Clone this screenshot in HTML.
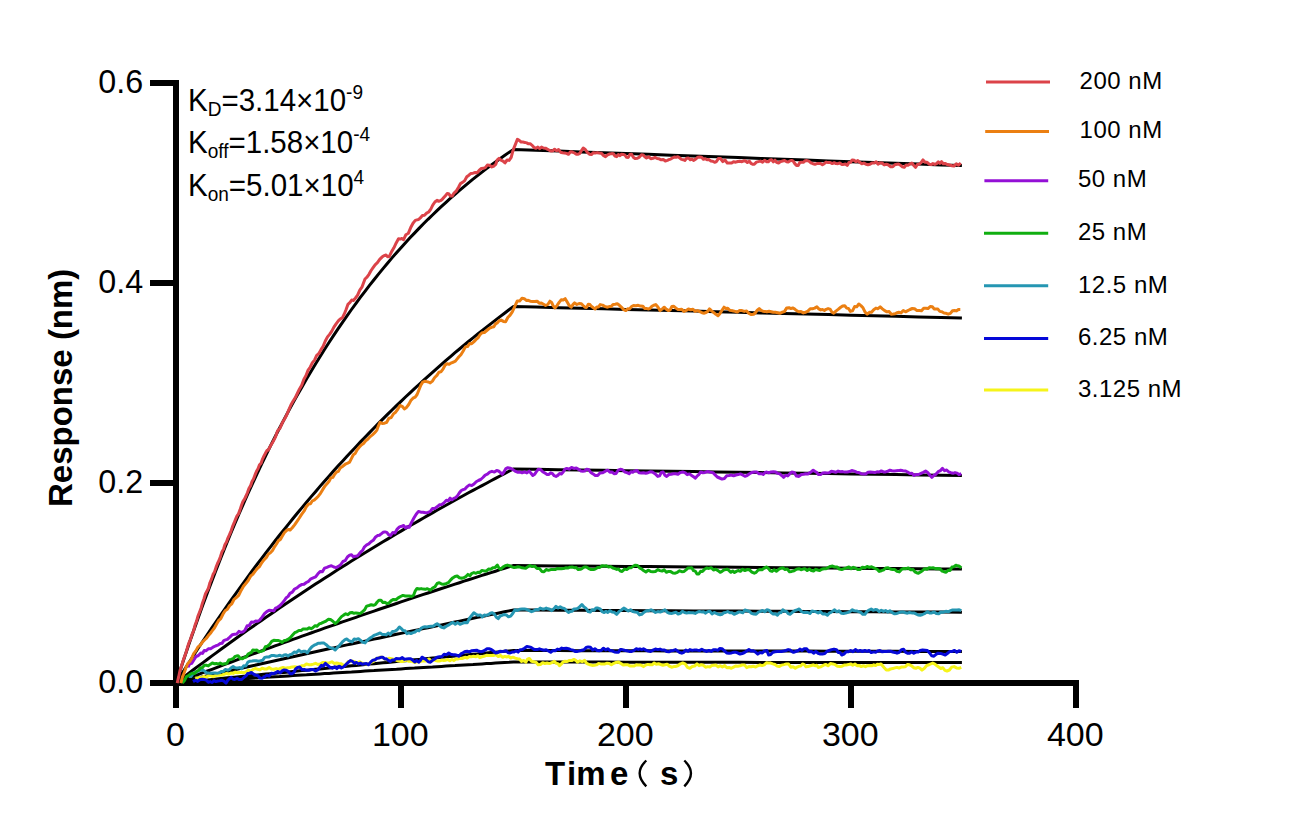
<!DOCTYPE html>
<html><head><meta charset="utf-8"><style>
html,body{margin:0;padding:0;background:#fff;}
svg{display:block;}
text{font-family:"Liberation Sans",sans-serif;fill:#000;}
.tk{font-size:34px;}
.lg{font-size:24px;letter-spacing:0.5px;}
.kd{font-size:31px;}
.sup{font-size:20px;}
.sub{font-size:20px;}
.ttl{font-size:33px;font-weight:bold;}
</style></head><body>
<svg width="1289" height="836" viewBox="0 0 1289 836">
<rect width="1289" height="836" fill="#fff"/>
<g fill="#000">
<rect x="173" y="80" width="6" height="628"/>
<rect x="150" y="680" width="929" height="6"/>
<rect x="150" y="80" width="29" height="6"/>
<rect x="150" y="280" width="29" height="6"/>
<rect x="150" y="480" width="29" height="6"/>
<rect x="398" y="680" width="6" height="28"/>
<rect x="623" y="680" width="6" height="28"/>
<rect x="848" y="680" width="6" height="28"/>
<rect x="1073" y="680" width="6" height="28"/>
</g>
<path d="M176.0 683.0 L180.5 669.3 L185.0 655.8 L189.5 642.6 L194.0 629.7 L198.5 617.0 L203.0 604.6 L207.5 592.5 L212.0 580.6 L216.5 568.9 L221.0 557.5 L225.5 546.3 L230.0 535.3 L234.5 524.5 L239.0 514.0 L243.5 503.6 L248.0 493.5 L252.5 483.6 L257.0 473.9 L261.5 464.4 L266.0 455.0 L270.5 445.9 L275.0 436.9 L279.5 428.2 L284.0 419.6 L288.5 411.1 L293.0 402.9 L297.5 394.8 L302.0 386.9 L306.5 379.1 L311.0 371.5 L315.5 364.0 L320.0 356.7 L324.5 349.5 L329.0 342.5 L333.5 335.7 L338.0 328.9 L342.5 322.3 L347.0 315.9 L351.5 309.5 L356.0 303.3 L360.5 297.2 L365.0 291.3 L369.5 285.4 L374.0 279.7 L378.5 274.1 L383.0 268.6 L387.5 263.2 L392.0 257.9 L396.5 252.7 L401.0 247.7 L405.5 242.7 L410.0 237.8 L414.5 233.1 L419.0 228.4 L423.5 223.8 L428.0 219.3 L432.5 215.0 L437.0 210.6 L441.5 206.4 L446.0 202.3 L450.5 198.2 L455.0 194.3 L459.5 190.4 L464.0 186.6 L468.5 182.8 L473.0 179.2 L477.5 175.6 L482.0 172.1 L486.5 168.6 L491.0 165.3 L495.5 162.0 L500.0 158.7 L504.5 155.6 L509.0 152.4 L513.5 149.4 L536.0 150.2 L558.5 151.1 L581.0 151.9 L603.5 152.7 L626.0 153.5 L648.5 154.3 L671.0 155.2 L693.5 156.0 L716.0 156.8 L738.5 157.6 L761.0 158.4 L783.5 159.2 L806.0 160.0 L828.5 160.9 L851.0 161.7 L873.5 162.5 L896.0 163.3 L918.5 164.1 L941.0 164.9 L961.9 165.6" fill="none" stroke="#000" stroke-width="3"/>
<path d="M176.0 683.0 L180.5 675.8 L185.0 668.7 L189.5 661.7 L194.0 654.7 L198.5 647.8 L203.0 641.0 L207.5 634.3 L212.0 627.6 L216.5 621.0 L221.0 614.5 L225.5 608.0 L230.0 601.6 L234.5 595.3 L239.0 589.0 L243.5 582.8 L248.0 576.6 L252.5 570.5 L257.0 564.5 L261.5 558.6 L266.0 552.7 L270.5 546.8 L275.0 541.0 L279.5 535.3 L284.0 529.7 L288.5 524.1 L293.0 518.5 L297.5 513.0 L302.0 507.6 L306.5 502.2 L311.0 496.9 L315.5 491.7 L320.0 486.4 L324.5 481.3 L329.0 476.2 L333.5 471.1 L338.0 466.1 L342.5 461.2 L347.0 456.3 L351.5 451.4 L356.0 446.7 L360.5 441.9 L365.0 437.2 L369.5 432.6 L374.0 428.0 L378.5 423.4 L383.0 418.9 L387.5 414.4 L392.0 410.0 L396.5 405.6 L401.0 401.3 L405.5 397.0 L410.0 392.8 L414.5 388.6 L419.0 384.5 L423.5 380.3 L428.0 376.3 L432.5 372.3 L437.0 368.3 L441.5 364.3 L446.0 360.4 L450.5 356.6 L455.0 352.7 L459.5 349.0 L464.0 345.2 L468.5 341.5 L473.0 337.9 L477.5 334.2 L482.0 330.6 L486.5 327.1 L491.0 323.6 L495.5 320.1 L500.0 316.6 L504.5 313.2 L509.0 309.8 L513.5 306.5 L536.0 307.1 L558.5 307.7 L581.0 308.2 L603.5 308.8 L626.0 309.4 L648.5 310.0 L671.0 310.6 L693.5 311.1 L716.0 311.7 L738.5 312.3 L761.0 312.9 L783.5 313.4 L806.0 314.0 L828.5 314.6 L851.0 315.2 L873.5 315.7 L896.0 316.3 L918.5 316.9 L941.0 317.4 L961.9 318.0" fill="none" stroke="#000" stroke-width="3"/>
<path d="M176.0 683.0 L180.5 679.5 L185.0 676.1 L189.5 672.7 L194.0 669.3 L198.5 665.9 L203.0 662.6 L207.5 659.2 L212.0 655.9 L216.5 652.6 L221.0 649.3 L225.5 646.0 L230.0 642.8 L234.5 639.5 L239.0 636.3 L243.5 633.1 L248.0 629.9 L252.5 626.8 L257.0 623.6 L261.5 620.5 L266.0 617.3 L270.5 614.2 L275.0 611.2 L279.5 608.1 L284.0 605.0 L288.5 602.0 L293.0 599.0 L297.5 596.0 L302.0 593.0 L306.5 590.0 L311.0 587.1 L315.5 584.1 L320.0 581.2 L324.5 578.3 L329.0 575.4 L333.5 572.5 L338.0 569.6 L342.5 566.8 L347.0 563.9 L351.5 561.1 L356.0 558.3 L360.5 555.5 L365.0 552.8 L369.5 550.0 L374.0 547.3 L378.5 544.5 L383.0 541.8 L387.5 539.1 L392.0 536.4 L396.5 533.7 L401.0 531.1 L405.5 528.4 L410.0 525.8 L414.5 523.2 L419.0 520.6 L423.5 518.0 L428.0 515.4 L432.5 512.9 L437.0 510.3 L441.5 507.8 L446.0 505.3 L450.5 502.7 L455.0 500.3 L459.5 497.8 L464.0 495.3 L468.5 492.8 L473.0 490.4 L477.5 488.0 L482.0 485.6 L486.5 483.2 L491.0 480.8 L495.5 478.4 L500.0 476.0 L504.5 473.7 L509.0 471.3 L513.5 469.0 L536.0 469.3 L558.5 469.7 L581.0 470.0 L603.5 470.3 L626.0 470.7 L648.5 471.0 L671.0 471.3 L693.5 471.6 L716.0 472.0 L738.5 472.3 L761.0 472.6 L783.5 472.9 L806.0 473.3 L828.5 473.6 L851.0 473.9 L873.5 474.2 L896.0 474.6 L918.5 474.9 L941.0 475.2 L961.9 475.5" fill="none" stroke="#000" stroke-width="3"/>
<path d="M176.0 683.0 L180.5 681.3 L185.0 679.5 L189.5 677.8 L194.0 676.1 L198.5 674.4 L203.0 672.7 L207.5 671.0 L212.0 669.3 L216.5 667.6 L221.0 665.9 L225.5 664.2 L230.0 662.5 L234.5 660.8 L239.0 659.1 L243.5 657.5 L248.0 655.8 L252.5 654.2 L257.0 652.5 L261.5 650.8 L266.0 649.2 L270.5 647.6 L275.0 645.9 L279.5 644.3 L284.0 642.7 L288.5 641.0 L293.0 639.4 L297.5 637.8 L302.0 636.2 L306.5 634.6 L311.0 633.0 L315.5 631.4 L320.0 629.8 L324.5 628.2 L329.0 626.7 L333.5 625.1 L338.0 623.5 L342.5 621.9 L347.0 620.4 L351.5 618.8 L356.0 617.3 L360.5 615.7 L365.0 614.2 L369.5 612.6 L374.0 611.1 L378.5 609.5 L383.0 608.0 L387.5 606.5 L392.0 605.0 L396.5 603.5 L401.0 601.9 L405.5 600.4 L410.0 598.9 L414.5 597.4 L419.0 595.9 L423.5 594.4 L428.0 593.0 L432.5 591.5 L437.0 590.0 L441.5 588.5 L446.0 587.1 L450.5 585.6 L455.0 584.1 L459.5 582.7 L464.0 581.2 L468.5 579.8 L473.0 578.3 L477.5 576.9 L482.0 575.4 L486.5 574.0 L491.0 572.6 L495.5 571.2 L500.0 569.7 L504.5 568.3 L509.0 566.9 L513.5 565.5 L536.0 565.7 L558.5 565.9 L581.0 566.0 L603.5 566.2 L626.0 566.4 L648.5 566.6 L671.0 566.8 L693.5 566.9 L716.0 567.1 L738.5 567.3 L761.0 567.5 L783.5 567.7 L806.0 567.8 L828.5 568.0 L851.0 568.2 L873.5 568.4 L896.0 568.6 L918.5 568.7 L941.0 568.9 L961.9 569.1" fill="none" stroke="#000" stroke-width="3"/>
<path d="M176.0 683.0 L180.5 682.0 L185.0 680.9 L189.5 679.9 L194.0 678.9 L198.5 677.9 L203.0 676.8 L207.5 675.8 L212.0 674.8 L216.5 673.8 L221.0 672.8 L225.5 671.8 L230.0 670.7 L234.5 669.7 L239.0 668.7 L243.5 667.7 L248.0 666.7 L252.5 665.7 L257.0 664.7 L261.5 663.7 L266.0 662.7 L270.5 661.7 L275.0 660.7 L279.5 659.7 L284.0 658.7 L288.5 657.7 L293.0 656.7 L297.5 655.7 L302.0 654.7 L306.5 653.8 L311.0 652.8 L315.5 651.8 L320.0 650.8 L324.5 649.8 L329.0 648.8 L333.5 647.9 L338.0 646.9 L342.5 645.9 L347.0 644.9 L351.5 644.0 L356.0 643.0 L360.5 642.0 L365.0 641.1 L369.5 640.1 L374.0 639.1 L378.5 638.2 L383.0 637.2 L387.5 636.3 L392.0 635.3 L396.5 634.3 L401.0 633.4 L405.5 632.4 L410.0 631.5 L414.5 630.5 L419.0 629.6 L423.5 628.6 L428.0 627.7 L432.5 626.7 L437.0 625.8 L441.5 624.9 L446.0 623.9 L450.5 623.0 L455.0 622.0 L459.5 621.1 L464.0 620.2 L468.5 619.2 L473.0 618.3 L477.5 617.4 L482.0 616.5 L486.5 615.5 L491.0 614.6 L495.5 613.7 L500.0 612.8 L504.5 611.8 L509.0 610.9 L513.5 610.0 L536.0 610.1 L558.5 610.2 L581.0 610.3 L603.5 610.5 L626.0 610.6 L648.5 610.7 L671.0 610.8 L693.5 610.9 L716.0 611.0 L738.5 611.1 L761.0 611.2 L783.5 611.3 L806.0 611.5 L828.5 611.6 L851.0 611.7 L873.5 611.8 L896.0 611.9 L918.5 612.0 L941.0 612.1 L961.9 612.2" fill="none" stroke="#000" stroke-width="3"/>
<path d="M176.0 683.0 L180.5 682.6 L185.0 682.1 L189.5 681.7 L194.0 681.2 L198.5 680.8 L203.0 680.3 L207.5 679.9 L212.0 679.4 L216.5 679.0 L221.0 678.5 L225.5 678.1 L230.0 677.6 L234.5 677.2 L239.0 676.8 L243.5 676.3 L248.0 675.9 L252.5 675.4 L257.0 675.0 L261.5 674.5 L266.0 674.1 L270.5 673.7 L275.0 673.2 L279.5 672.8 L284.0 672.4 L288.5 671.9 L293.0 671.5 L297.5 671.0 L302.0 670.6 L306.5 670.2 L311.0 669.7 L315.5 669.3 L320.0 668.9 L324.5 668.4 L329.0 668.0 L333.5 667.5 L338.0 667.1 L342.5 666.7 L347.0 666.2 L351.5 665.8 L356.0 665.4 L360.5 665.0 L365.0 664.5 L369.5 664.1 L374.0 663.7 L378.5 663.2 L383.0 662.8 L387.5 662.4 L392.0 661.9 L396.5 661.5 L401.0 661.1 L405.5 660.7 L410.0 660.2 L414.5 659.8 L419.0 659.4 L423.5 658.9 L428.0 658.5 L432.5 658.1 L437.0 657.7 L441.5 657.2 L446.0 656.8 L450.5 656.4 L455.0 656.0 L459.5 655.5 L464.0 655.1 L468.5 654.7 L473.0 654.3 L477.5 653.9 L482.0 653.4 L486.5 653.0 L491.0 652.6 L495.5 652.2 L500.0 651.8 L504.5 651.3 L509.0 650.9 L513.5 650.5 L536.0 650.6 L558.5 650.6 L581.0 650.7 L603.5 650.7 L626.0 650.8 L648.5 650.8 L671.0 650.9 L693.5 650.9 L716.0 651.0 L738.5 651.0 L761.0 651.0 L783.5 651.1 L806.0 651.1 L828.5 651.2 L851.0 651.2 L873.5 651.3 L896.0 651.3 L918.5 651.4 L941.0 651.4 L961.9 651.5" fill="none" stroke="#000" stroke-width="3"/>
<path d="M176.0 683.0 L180.5 682.7 L185.0 682.4 L189.5 682.1 L194.0 681.9 L198.5 681.6 L203.0 681.3 L207.5 681.0 L212.0 680.7 L216.5 680.4 L221.0 680.1 L225.5 679.9 L230.0 679.6 L234.5 679.3 L239.0 679.0 L243.5 678.7 L248.0 678.4 L252.5 678.2 L257.0 677.9 L261.5 677.6 L266.0 677.3 L270.5 677.0 L275.0 676.7 L279.5 676.5 L284.0 676.2 L288.5 675.9 L293.0 675.6 L297.5 675.3 L302.0 675.0 L306.5 674.8 L311.0 674.5 L315.5 674.2 L320.0 673.9 L324.5 673.6 L329.0 673.4 L333.5 673.1 L338.0 672.8 L342.5 672.5 L347.0 672.2 L351.5 672.0 L356.0 671.7 L360.5 671.4 L365.0 671.1 L369.5 670.8 L374.0 670.6 L378.5 670.3 L383.0 670.0 L387.5 669.7 L392.0 669.4 L396.5 669.2 L401.0 668.9 L405.5 668.6 L410.0 668.3 L414.5 668.1 L419.0 667.8 L423.5 667.5 L428.0 667.2 L432.5 667.0 L437.0 666.7 L441.5 666.4 L446.0 666.1 L450.5 665.8 L455.0 665.6 L459.5 665.3 L464.0 665.0 L468.5 664.7 L473.0 664.5 L477.5 664.2 L482.0 663.9 L486.5 663.6 L491.0 663.4 L495.5 663.1 L500.0 662.8 L504.5 662.5 L509.0 662.3 L513.5 662.0 L536.0 662.0 L558.5 662.1 L581.0 662.1 L603.5 662.1 L626.0 662.2 L648.5 662.2 L671.0 662.2 L693.5 662.3 L716.0 662.3 L738.5 662.3 L761.0 662.4 L783.5 662.4 L806.0 662.4 L828.5 662.5 L851.0 662.5 L873.5 662.5 L896.0 662.5 L918.5 662.6 L941.0 662.6 L961.9 662.6" fill="none" stroke="#000" stroke-width="3"/>
<path d="M195.1 678.1 L197.3 678.3 L199.4 677.4 L201.6 677.7 L203.7 676.3 L205.9 677.3 L208.3 675.8 L210.7 675.8 L213.1 676.7 L215.4 675.7 L217.8 675.1 L220.2 675.2 L222.4 675.0 L224.5 674.2 L226.7 673.4 L228.8 674.2 L231.0 673.0 L233.1 673.4 L235.3 672.1 L237.4 672.8 L239.6 672.5 L241.7 672.3 L243.9 672.7 L246.1 671.8 L248.4 670.1 L250.6 671.4 L252.8 669.6 L255.1 668.5 L257.5 669.2 L259.8 669.9 L262.1 668.2 L264.5 669.0 L266.8 668.9 L269.1 667.6 L271.4 669.1 L273.8 669.2 L276.1 668.6 L278.4 669.3 L280.7 668.2 L283.0 667.5 L285.4 668.2 L287.7 667.7 L290.0 667.5 L292.4 666.9 L294.7 666.8 L297.0 667.3 L299.4 667.3 L301.7 665.7 L304.0 665.8 L306.4 663.9 L308.7 664.7 L311.0 664.8 L313.3 664.1 L315.6 663.3 L317.9 664.5 L320.3 663.9 L322.6 662.4 L324.9 662.5 L327.3 663.2 L329.6 662.6 L331.9 661.8 L334.3 663.4 L336.6 663.1 L338.9 663.5 L341.3 663.8 L343.6 665.4 L345.7 664.8 L347.9 661.8 L350.0 661.4 L352.4 661.1 L354.8 661.8 L357.2 663.4 L359.5 661.7 L361.9 663.1 L364.3 663.7 L366.7 663.9 L368.9 663.8 L371.2 662.5 L373.4 661.5 L375.6 658.9 L377.9 658.1 L380.1 657.2 L382.3 657.3 L384.6 659.1 L386.8 659.8 L389.0 658.2 L391.3 658.7 L393.5 659.3 L395.7 659.8 L398.0 660.9 L400.2 661.4 L402.3 661.6 L404.4 660.8 L406.5 660.1 L408.6 661.2 L410.7 661.1 L412.8 661.6 L414.9 662.6 L417.0 661.4 L419.4 661.7 L421.8 661.0 L424.2 661.0 L426.5 660.9 L428.9 659.0 L431.3 661.0 L433.7 659.7 L435.7 660.6 L437.7 661.0 L439.8 661.0 L441.8 660.1 L443.8 660.5 L445.8 660.2 L447.8 659.5 L449.8 660.8 L451.8 659.4 L453.8 660.5 L456.0 659.0 L458.3 658.9 L460.5 658.4 L462.7 658.4 L465.0 657.3 L467.2 658.0 L469.3 656.5 L471.4 656.7 L473.5 656.3 L475.6 656.8 L477.7 655.7 L479.8 657.7 L481.9 656.8 L484.0 656.3 L486.4 655.3 L488.8 655.4 L491.2 655.6 L493.5 655.5 L495.9 654.7 L498.3 656.5 L500.7 655.5 L502.7 657.3 L504.7 656.4 L506.7 657.0 L508.7 656.4 L510.7 658.0 L512.9 657.2 L515.2 658.1 L517.4 658.8 L519.5 659.0 L521.6 661.4 L523.7 660.5 L525.8 662.2 L527.5 659.1 L529.3 658.5 L531.5 661.2 L533.8 661.7 L536.0 662.3 L538.2 664.8 L540.4 664.5 L542.7 662.7 L544.9 663.5 L547.1 663.0 L549.5 663.6 L551.9 662.7 L554.3 661.2 L556.1 663.2 L557.8 663.6 L559.6 665.7 L561.4 663.9 L563.2 661.8 L565.0 661.2 L567.2 661.5 L569.5 660.4 L571.7 660.6 L573.9 659.4 L575.7 660.3 L577.5 662.1 L579.9 660.8 L582.2 661.7 L584.6 660.3 L586.4 663.1 L588.2 664.2 L590.0 664.8 L592.1 665.4 L594.3 665.3 L596.4 664.9 L598.6 663.4 L600.7 663.9 L602.8 664.1 L605.0 663.9 L607.1 663.2 L609.3 663.4 L611.4 664.8 L613.8 663.3 L616.1 662.4 L618.5 662.1 L620.9 663.5 L623.2 665.1 L625.6 664.8 L627.7 664.7 L629.9 665.9 L632.0 666.1 L634.2 666.0 L636.3 664.8 L638.1 664.9 L639.9 665.0 L641.7 665.4 L643.5 666.6 L645.6 665.1 L647.8 664.4 L649.9 664.8 L652.1 664.8 L654.2 663.0 L656.3 664.2 L658.5 663.7 L660.6 664.5 L662.8 665.2 L664.9 664.8 L667.1 664.2 L669.3 666.1 L671.6 667.2 L673.8 666.6 L676.0 666.4 L678.2 665.5 L680.5 663.8 L682.7 663.0 L685.1 663.9 L687.5 667.3 L689.9 668.3 L692.3 666.4 L694.6 666.1 L697.0 663.9 L699.1 665.7 L701.3 664.7 L703.4 665.3 L705.6 667.2 L707.7 666.6 L709.8 667.0 L711.9 665.4 L714.0 665.2 L716.0 665.1 L718.1 666.9 L720.2 665.7 L722.4 666.9 L724.7 665.6 L726.9 667.8 L729.1 667.4 L731.3 668.3 L733.5 667.1 L735.6 666.0 L737.8 666.2 L740.0 665.7 L742.2 665.0 L744.5 664.9 L746.7 667.6 L748.9 666.6 L751.1 666.8 L753.3 666.2 L755.6 667.1 L757.8 665.7 L760.0 665.0 L762.1 665.6 L764.3 664.9 L766.4 662.8 L768.6 663.0 L770.7 663.1 L772.9 663.9 L775.0 664.5 L777.2 666.1 L779.3 666.6 L781.7 665.1 L784.0 664.6 L786.4 663.9 L788.6 664.0 L790.8 667.2 L793.1 666.8 L795.3 668.3 L797.1 667.1 L798.9 666.3 L800.7 666.1 L802.5 663.9 L804.3 664.6 L806.0 666.8 L807.8 666.6 L809.6 666.0 L811.4 665.5 L813.2 664.8 L815.0 665.7 L816.7 665.3 L818.5 667.4 L820.9 666.7 L823.3 665.4 L825.6 664.4 L828.0 665.8 L830.4 663.6 L832.8 663.9 L835.2 664.7 L837.5 666.3 L839.9 666.6 L842.0 666.2 L844.2 665.1 L846.3 665.0 L848.5 664.6 L850.6 663.9 L852.7 665.2 L854.9 664.0 L857.0 665.7 L859.2 665.4 L861.3 666.6 L863.4 665.7 L865.5 666.7 L867.5 665.7 L869.6 665.6 L871.7 665.8 L873.8 664.8 L875.6 665.6 L877.4 664.2 L879.2 664.4 L881.0 663.9 L882.8 666.0 L884.5 668.1 L886.3 670.1 L888.4 670.1 L890.6 668.9 L892.7 668.6 L894.9 667.9 L897.0 667.4 L899.1 668.1 L901.2 667.1 L903.2 667.1 L905.3 666.8 L907.4 664.6 L909.5 664.8 L911.6 665.8 L913.7 667.7 L915.8 668.3 L917.8 667.4 L919.9 668.2 L922.0 670.1 L924.4 668.2 L926.7 665.5 L929.1 664.8 L930.9 663.8 L932.7 663.1 L934.5 663.9 L936.6 665.5 L938.7 667.0 L940.8 668.5 L942.8 667.7 L944.9 670.4 L947.0 671.0 L949.4 670.0 L951.7 667.1 L954.1 666.6 L956.5 667.9 L958.9 668.3 L961.3 667.4" fill="none" stroke="#f6f41a" stroke-width="3" stroke-linejoin="round"/>
<path d="M193.0 681.6 L195.4 680.2 L197.7 681.4 L200.1 679.5 L202.2 679.2 L204.4 679.5 L206.3 680.2 L208.3 682.2 L210.2 681.6 L212.1 682.5 L214.0 680.7 L215.9 681.6 L217.8 681.0 L219.7 680.7 L221.6 680.2 L223.8 681.2 L226.0 683.1 L227.7 680.4 L229.3 678.8 L231.0 677.3 L232.8 679.0 L234.6 679.5 L237.0 678.3 L239.3 679.6 L241.7 679.5 L243.8 677.5 L246.0 675.9 L247.8 673.5 L249.6 673.1 L251.4 672.4 L253.5 674.1 L255.6 675.2 L257.7 675.5 L259.8 678.0 L262.1 678.3 L264.5 676.9 L266.8 675.2 L269.1 676.0 L271.5 673.2 L273.8 673.8 L275.9 672.6 L278.0 671.4 L280.1 672.8 L282.1 670.9 L284.2 669.9 L286.3 670.3 L288.2 671.3 L290.0 673.7 L291.9 673.8 L293.8 672.5 L295.6 669.0 L297.5 667.5 L299.7 667.1 L302.0 669.7 L304.2 669.4 L306.5 670.3 L308.7 670.3 L311.0 669.5 L313.3 669.6 L315.6 671.0 L317.6 669.9 L319.5 667.7 L321.5 665.3 L323.4 666.0 L325.4 663.3 L327.7 665.3 L330.1 667.4 L332.4 668.2 L334.6 666.8 L336.9 668.6 L339.1 666.2 L341.4 668.0 L343.6 666.8 L345.9 664.6 L348.3 662.2 L350.6 660.5 L352.6 661.5 L354.5 663.3 L356.4 662.4 L358.4 663.9 L360.4 663.1 L362.4 664.3 L364.4 663.7 L366.4 663.5 L368.4 664.7 L370.6 662.2 L372.9 660.2 L375.1 659.7 L377.0 658.3 L378.9 658.0 L380.8 657.3 L382.7 657.2 L384.6 658.9 L386.4 658.8 L388.3 660.4 L390.2 661.4 L392.2 660.0 L394.2 660.0 L396.2 658.6 L398.2 658.7 L400.2 658.8 L402.3 657.5 L404.4 659.4 L406.5 658.9 L408.6 658.8 L410.6 658.7 L412.6 660.1 L414.7 662.0 L416.7 660.5 L418.7 662.2 L420.4 660.5 L422.0 657.2 L424.1 658.3 L426.2 659.7 L428.3 661.8 L430.4 662.2 L432.6 660.3 L434.9 658.9 L437.1 657.2 L439.4 656.8 L441.8 656.8 L444.1 654.3 L446.5 654.7 L448.8 653.0 L450.8 654.2 L452.8 654.7 L454.8 654.7 L456.8 655.2 L458.8 656.3 L460.9 653.9 L463.0 652.8 L465.1 651.4 L467.2 651.3 L469.5 651.9 L471.9 650.7 L474.2 650.4 L476.6 650.2 L478.9 651.3 L480.9 651.7 L482.9 651.3 L485.0 650.2 L487.0 648.7 L489.0 648.8 L491.2 649.5 L493.5 651.1 L495.7 653.0 L497.8 652.5 L499.9 651.3 L502.0 651.6 L504.1 651.3 L506.1 650.8 L508.1 652.8 L510.1 653.0 L512.1 652.1 L514.1 652.1 L516.1 650.8 L518.1 652.1 L520.1 649.7 L522.1 649.6 L524.5 648.3 L526.9 646.5 L529.3 646.9 L531.1 647.5 L532.8 648.6 L534.6 649.6 L537.0 649.6 L539.4 648.8 L541.8 649.6 L544.0 650.3 L546.2 649.7 L548.5 651.0 L550.7 652.3 L552.9 650.6 L555.2 650.7 L557.4 649.1 L559.6 649.6 L561.8 648.1 L564.0 648.6 L566.3 648.2 L568.5 648.7 L570.8 649.6 L573.0 650.1 L575.2 651.4 L577.5 651.4 L579.6 650.9 L581.8 650.2 L583.9 649.7 L586.1 647.5 L588.2 646.9 L590.4 647.3 L592.7 650.0 L594.9 648.7 L597.1 650.5 L599.2 650.7 L601.4 650.2 L603.5 648.2 L605.7 649.9 L607.8 648.7 L610.0 650.6 L612.2 650.8 L614.5 652.0 L616.7 652.3 L618.5 652.2 L620.3 649.6 L622.1 649.6 L624.5 650.3 L626.8 650.8 L629.2 651.4 L631.6 651.4 L633.9 650.4 L636.3 648.7 L638.1 649.5 L639.9 648.9 L641.7 649.7 L643.5 648.7 L645.9 650.1 L648.2 651.0 L650.6 651.4 L653.0 650.1 L655.4 649.0 L657.8 649.6 L660.0 649.1 L662.2 650.1 L664.5 649.9 L666.7 651.4 L668.9 651.8 L671.2 650.7 L673.4 650.4 L675.6 649.6 L677.7 651.1 L679.7 652.5 L681.8 653.2 L683.8 652.3 L685.8 650.1 L687.9 651.3 L689.9 649.6 L692.3 650.4 L694.7 649.9 L697.0 650.1 L699.4 650.6 L701.8 649.2 L704.2 650.5 L706.6 651.4 L708.9 650.5 L711.3 651.4 L713.4 649.8 L715.6 649.7 L717.7 650.4 L719.9 648.5 L722.0 648.7 L724.4 650.8 L726.7 652.9 L729.1 653.2 L731.5 652.9 L733.9 652.3 L736.3 652.3 L738.1 653.1 L740.0 654.1 L742.2 653.5 L744.5 652.5 L746.7 651.0 L748.9 649.6 L751.1 651.1 L753.3 650.8 L755.6 652.1 L757.8 654.1 L760.0 652.6 L762.3 652.9 L764.5 650.9 L766.8 650.5 L768.6 655.0 L770.7 654.5 L772.9 652.3 L775.0 651.7 L777.2 651.5 L779.3 651.4 L781.5 651.4 L783.8 651.0 L786.0 650.5 L788.2 649.6 L790.0 650.0 L791.7 651.4 L793.5 652.3 L795.6 651.5 L797.8 650.8 L799.9 649.1 L802.1 650.4 L804.2 648.7 L806.6 648.8 L809.0 651.7 L811.4 651.4 L813.6 653.2 L815.8 651.5 L818.1 653.3 L820.3 654.1 L822.5 654.0 L824.8 653.5 L827.0 651.3 L829.2 650.5 L831.6 649.6 L834.0 649.1 L836.4 649.6 L838.2 652.6 L839.9 652.4 L841.7 655.0 L843.9 654.1 L846.2 651.8 L848.4 651.7 L850.6 650.5 L853.0 651.7 L855.4 649.5 L857.8 651.3 L860.1 650.5 L862.5 651.5 L864.9 650.5 L867.0 651.4 L869.2 650.5 L871.3 652.6 L873.5 651.9 L875.6 652.3 L877.7 650.9 L879.9 650.6 L882.0 651.7 L884.2 651.5 L886.3 651.4 L888.4 651.2 L890.6 651.2 L892.7 652.1 L894.9 652.4 L897.0 653.2 L899.2 652.3 L901.5 649.6 L903.5 649.2 L905.5 652.1 L907.5 653.2 L909.5 653.2 L911.6 651.7 L913.8 653.2 L915.9 652.1 L918.1 652.1 L920.2 650.5 L922.6 650.0 L925.0 650.2 L927.4 650.5 L929.6 652.9 L931.8 655.8 L933.9 656.2 L936.0 654.3 L938.1 653.2 L940.5 653.4 L942.8 654.2 L945.2 655.0 L947.6 653.2 L949.9 651.4 L952.3 651.4 L954.5 650.4 L956.8 652.3 L959.0 650.8 L961.3 651.4" fill="none" stroke="#0508d8" stroke-width="3" stroke-linejoin="round"/>
<path d="M188.7 676.6 L191.0 676.5 L193.3 673.4 L195.5 672.2 L197.8 671.5 L200.1 670.2 L202.2 669.9 L204.4 670.8 L206.6 672.8 L208.7 673.1 L210.8 673.3 L213.0 673.0 L215.1 672.9 L217.1 673.3 L219.2 672.9 L221.2 671.5 L223.3 671.6 L225.3 669.4 L227.4 670.2 L229.3 669.6 L231.2 667.7 L233.1 666.6 L235.2 667.8 L237.4 668.0 L239.5 667.6 L241.7 668.7 L243.8 665.7 L245.8 666.1 L247.9 662.1 L250.0 661.2 L252.1 661.1 L254.2 660.8 L256.3 660.7 L258.4 661.2 L260.5 660.8 L262.6 660.3 L264.7 657.4 L266.8 657.0 L269.1 656.9 L271.5 655.5 L273.8 655.6 L275.9 655.9 L278.0 655.7 L280.0 655.3 L282.1 656.3 L284.1 655.0 L286.0 654.7 L288.0 656.1 L289.9 654.6 L291.9 654.2 L294.2 652.1 L296.6 652.5 L298.9 650.0 L301.0 652.0 L303.1 651.3 L305.2 651.2 L307.3 652.8 L309.6 649.5 L311.9 646.7 L314.2 645.2 L316.2 644.4 L318.1 643.3 L320.1 643.3 L322.0 642.9 L324.0 643.1 L326.2 644.7 L328.5 646.9 L330.7 647.9 L333.0 648.4 L335.2 650.0 L337.2 647.7 L339.1 645.9 L341.1 643.4 L343.0 641.3 L345.0 639.6 L346.7 639.0 L348.3 640.2 L350.0 641.3 L352.1 641.9 L354.2 639.0 L356.3 639.4 L358.4 638.7 L360.6 640.4 L362.9 642.4 L365.1 642.9 L367.3 640.2 L369.6 638.4 L371.8 637.1 L373.9 635.4 L376.0 634.7 L378.0 633.8 L380.1 632.9 L382.1 634.4 L384.1 634.5 L386.2 634.9 L388.2 633.0 L390.2 634.6 L392.5 631.5 L394.8 631.3 L397.1 629.9 L399.4 627.0 L401.3 628.6 L403.1 630.6 L405.0 630.7 L406.9 633.7 L408.9 632.8 L410.9 633.5 L413.0 632.6 L415.0 632.0 L417.0 630.4 L419.0 630.9 L421.0 628.4 L423.0 627.3 L425.0 626.8 L427.0 627.0 L429.0 626.4 L431.0 626.2 L433.1 626.2 L435.1 624.9 L437.1 623.7 L439.3 625.5 L441.6 627.2 L443.8 627.9 L446.0 626.4 L448.3 625.2 L450.5 623.7 L452.9 622.4 L455.3 624.2 L457.7 622.6 L460.0 624.3 L462.4 623.4 L464.8 622.4 L467.2 622.8 L469.4 618.5 L471.7 615.5 L473.9 612.8 L476.0 614.2 L478.1 615.4 L480.2 614.9 L482.3 617.0 L484.3 615.0 L486.3 615.4 L488.3 614.7 L490.3 613.3 L492.3 612.8 L494.3 614.0 L496.2 617.0 L498.2 618.7 L500.2 616.0 L502.1 615.4 L504.1 614.5 L506.3 614.9 L508.5 616.8 L510.7 616.1 L512.9 613.3 L515.0 609.8 L517.4 610.5 L519.7 609.2 L522.1 609.0 L524.5 608.9 L526.9 609.5 L529.3 610.7 L531.5 611.7 L533.8 610.8 L536.0 609.5 L538.2 609.8 L540.2 608.1 L542.2 608.9 L544.2 609.0 L546.2 608.1 L548.0 608.8 L549.8 609.2 L551.6 610.7 L553.8 608.9 L556.0 606.3 L558.1 608.0 L560.2 606.8 L562.3 608.1 L564.4 608.4 L566.4 610.6 L568.5 612.5 L570.3 611.4 L572.1 611.2 L573.9 609.1 L575.7 609.0 L577.8 608.3 L579.8 606.6 L581.9 604.5 L584.0 606.9 L586.1 608.5 L588.2 611.6 L590.2 612.1 L592.1 609.7 L594.1 610.3 L596.0 608.1 L598.0 608.1 L600.1 608.8 L602.1 611.7 L604.2 612.5 L606.0 611.4 L607.8 612.5 L609.6 610.7 L612.0 611.9 L614.3 612.3 L616.7 614.3 L619.1 611.5 L621.4 610.0 L623.8 608.1 L626.0 609.4 L628.3 611.0 L630.5 609.8 L632.8 611.6 L635.0 612.0 L637.2 612.2 L639.5 614.9 L641.7 614.3 L644.1 612.2 L646.4 610.7 L648.8 610.7 L651.0 609.8 L653.3 610.9 L655.5 612.4 L657.8 611.6 L660.2 612.0 L662.5 611.0 L664.9 609.8 L667.3 612.3 L669.6 613.3 L672.0 613.4 L674.1 612.8 L676.2 612.3 L678.2 614.1 L680.3 613.4 L682.4 611.4 L684.5 612.5 L686.6 613.1 L688.8 612.5 L690.9 612.7 L693.1 612.8 L695.2 613.4 L697.3 612.2 L699.4 611.5 L701.5 611.9 L703.5 611.8 L705.6 613.1 L707.7 611.6 L709.8 611.2 L712.0 613.9 L714.1 612.5 L716.3 613.4 L718.4 614.3 L720.2 614.7 L722.0 614.2 L723.8 612.8 L725.6 612.5 L727.7 611.5 L729.9 612.8 L732.0 612.7 L734.2 614.3 L736.3 613.4 L738.5 612.1 L740.6 612.0 L742.8 612.8 L744.9 610.0 L747.1 610.7 L749.4 611.4 L751.6 613.3 L753.9 614.1 L756.1 614.3 L758.2 612.2 L760.4 611.3 L762.5 610.5 L764.7 611.8 L766.8 609.8 L768.9 610.2 L771.1 612.6 L773.2 614.1 L775.4 613.7 L777.5 615.2 L779.3 612.8 L781.0 612.8 L782.8 609.8 L784.6 611.2 L786.4 611.4 L788.2 613.7 L790.0 614.3 L792.4 612.3 L794.7 610.7 L797.1 609.8 L799.2 609.0 L801.4 611.5 L803.5 612.5 L805.7 612.3 L807.8 612.5 L809.9 613.5 L812.0 611.0 L814.0 611.4 L816.1 611.8 L818.2 612.9 L820.3 611.6 L822.7 614.0 L825.0 613.7 L827.4 615.2 L829.2 613.2 L831.0 612.3 L832.8 611.1 L834.6 609.8 L836.8 611.8 L839.0 610.8 L841.3 613.3 L843.5 613.4 L845.7 613.1 L848.0 612.4 L850.2 611.4 L852.4 609.8 L854.5 610.8 L856.6 610.9 L858.6 611.6 L860.7 612.4 L862.8 614.3 L864.9 614.3 L867.0 611.4 L869.1 610.0 L871.2 609.0 L873.2 610.3 L875.2 609.6 L877.2 609.8 L879.2 611.6 L881.3 610.2 L883.5 611.4 L885.6 610.6 L887.8 612.1 L889.9 610.7 L892.3 612.6 L894.6 613.8 L897.0 613.4 L899.1 612.6 L901.2 612.0 L903.2 611.9 L905.3 612.8 L907.4 613.2 L909.5 612.5 L911.6 612.9 L913.8 612.9 L915.9 613.9 L918.1 615.0 L920.2 615.2 L922.6 614.5 L925.0 613.4 L927.4 611.6 L929.6 613.0 L931.8 612.9 L934.1 612.0 L936.3 613.4 L938.7 613.8 L941.1 612.0 L943.5 612.2 L945.8 611.3 L948.2 611.8 L950.6 610.7 L952.7 609.9 L954.9 610.0 L957.0 610.0 L959.2 609.8 L961.3 610.7" fill="none" stroke="#2596b2" stroke-width="3" stroke-linejoin="round"/>
<path d="M182.2 683.1 L184.3 680.8 L186.5 676.6 L188.5 675.7 L190.6 674.0 L192.6 673.1 L194.6 673.6 L196.7 671.3 L198.7 670.2 L200.6 667.8 L202.5 667.7 L204.4 665.2 L206.3 665.3 L208.3 665.9 L210.2 664.4 L212.3 663.0 L214.5 663.7 L216.4 663.4 L218.3 664.1 L220.2 663.0 L222.3 664.2 L224.5 663.7 L226.7 663.5 L228.8 660.0 L230.9 659.4 L233.1 658.7 L234.8 656.7 L236.4 656.0 L238.1 655.8 L240.3 658.5 L242.5 658.7 L244.4 657.5 L246.2 657.0 L248.1 654.1 L250.0 653.0 L251.4 652.5 L252.8 650.0 L254.9 650.2 L257.0 650.1 L259.1 651.8 L261.2 651.4 L263.3 650.7 L265.4 646.7 L267.5 646.1 L269.6 644.3 L271.7 641.4 L273.8 640.3 L275.9 640.5 L278.0 640.4 L280.0 641.1 L282.1 642.4 L284.2 640.5 L286.3 640.2 L288.4 639.1 L290.5 637.5 L292.6 635.0 L294.7 632.7 L296.8 631.8 L298.9 630.5 L301.0 630.6 L303.1 629.0 L305.2 629.0 L307.3 629.1 L309.2 627.8 L311.2 628.7 L313.1 627.5 L315.1 625.7 L317.0 626.3 L319.2 623.9 L321.5 623.2 L323.7 622.2 L326.0 621.1 L328.2 619.3 L330.5 619.6 L332.9 621.2 L335.2 623.5 L337.3 621.9 L339.4 619.1 L341.5 616.6 L343.6 615.1 L345.7 613.8 L347.9 614.7 L350.0 612.8 L352.0 612.5 L354.0 613.3 L356.0 612.9 L358.0 613.2 L360.0 613.6 L362.2 612.0 L364.5 609.9 L366.7 606.1 L368.9 605.5 L371.2 604.8 L373.4 605.3 L375.3 604.6 L377.2 602.0 L379.1 600.2 L381.0 600.2 L382.9 602.4 L384.9 602.3 L386.8 603.6 L389.0 603.0 L391.3 600.6 L393.5 599.4 L395.9 599.7 L398.2 597.9 L400.6 596.5 L402.9 595.4 L405.3 596.0 L407.4 595.9 L409.5 596.0 L411.5 596.5 L413.6 595.2 L415.3 590.8 L417.0 588.5 L419.1 589.0 L421.2 588.6 L423.3 589.1 L425.4 589.3 L427.1 588.7 L428.7 589.3 L430.4 590.2 L432.6 588.0 L434.9 586.8 L437.1 583.5 L439.3 582.7 L441.6 584.0 L443.8 584.3 L446.0 583.7 L448.3 582.7 L450.5 580.1 L452.7 577.9 L455.0 576.4 L457.2 576.0 L459.4 577.7 L461.7 578.3 L463.9 577.6 L465.9 576.6 L467.9 574.4 L469.9 575.7 L471.9 573.3 L473.9 572.6 L475.9 573.3 L477.9 572.2 L480.0 572.4 L482.0 570.4 L484.0 570.9 L486.2 571.1 L488.5 569.1 L490.7 569.3 L492.9 567.7 L495.2 567.4 L497.4 565.1 L499.0 568.1 L500.7 569.3 L502.9 567.1 L505.2 565.8 L507.4 565.1 L509.6 565.7 L511.9 566.8 L514.1 567.6 L516.1 567.3 L518.1 566.7 L520.1 567.1 L522.1 567.8 L523.9 568.1 L525.7 568.3 L527.5 567.0 L529.9 565.5 L532.2 566.6 L534.6 566.1 L537.0 568.5 L539.4 568.4 L541.8 571.4 L544.0 571.8 L546.2 569.5 L548.5 570.3 L550.7 569.6 L552.8 569.6 L555.0 569.6 L557.1 568.6 L559.3 568.7 L561.4 568.7 L563.5 568.6 L565.7 567.8 L567.8 568.1 L570.0 567.2 L572.1 567.0 L574.2 567.7 L576.2 567.5 L578.3 569.6 L580.3 569.3 L582.3 568.3 L584.4 567.0 L586.4 567.0 L588.8 568.6 L591.1 569.5 L593.5 569.6 L595.6 568.8 L597.8 567.4 L599.9 567.4 L602.1 565.8 L604.2 566.1 L606.3 565.7 L608.5 567.0 L610.6 566.6 L612.8 568.0 L614.9 568.7 L616.7 569.4 L618.5 568.9 L620.3 571.1 L622.1 571.4 L624.5 569.1 L626.8 569.6 L629.2 567.8 L631.3 567.7 L633.3 566.1 L635.4 565.2 L637.4 565.4 L639.5 567.9 L641.5 568.9 L643.5 570.5 L645.9 572.0 L648.2 570.2 L650.6 571.4 L653.0 571.7 L655.4 571.5 L657.8 569.6 L659.9 570.6 L662.1 571.1 L664.2 569.9 L666.4 572.3 L668.5 571.4 L670.7 571.6 L673.0 573.0 L675.2 573.2 L677.4 572.3 L679.6 570.8 L681.8 571.7 L684.1 571.4 L686.3 569.6 L688.1 567.9 L689.9 568.0 L691.7 567.8 L693.5 570.6 L695.2 571.1 L697.0 574.1 L698.8 574.0 L700.6 571.3 L702.4 571.5 L704.2 569.6 L706.6 568.1 L708.9 568.4 L711.3 567.8 L713.5 570.0 L715.8 569.3 L718.0 570.6 L720.2 572.3 L722.0 571.4 L723.8 570.0 L725.6 569.6 L727.4 569.3 L729.1 570.6 L730.9 572.3 L732.7 571.0 L734.5 572.5 L736.3 571.4 L738.1 570.5 L740.4 571.3 L742.6 569.2 L744.9 570.6 L747.1 569.6 L749.5 569.8 L751.9 572.1 L754.3 573.2 L756.1 572.4 L757.8 570.4 L759.6 569.6 L762.0 569.7 L764.4 568.0 L766.8 567.0 L768.6 568.7 L770.3 570.9 L772.1 571.4 L774.2 569.7 L776.4 571.2 L778.5 569.6 L780.7 568.2 L782.8 567.8 L785.0 569.5 L787.2 569.0 L789.5 571.8 L791.7 571.4 L794.1 570.7 L796.5 569.2 L798.9 568.7 L801.0 569.7 L803.1 569.1 L805.1 568.8 L807.2 570.5 L809.3 569.0 L811.4 570.5 L813.5 571.0 L815.6 569.3 L817.6 570.0 L819.7 570.6 L821.8 569.2 L823.9 568.7 L826.0 568.8 L828.2 567.5 L830.3 566.4 L832.5 566.1 L834.6 567.0 L837.0 567.0 L839.3 569.0 L841.7 569.6 L844.1 568.6 L846.5 567.9 L848.9 567.0 L851.1 568.7 L853.3 567.3 L855.6 568.2 L857.8 569.6 L860.2 569.4 L862.5 567.2 L864.9 567.8 L867.1 566.5 L869.3 567.4 L871.6 566.8 L873.8 567.8 L875.6 568.6 L877.4 569.5 L879.2 571.4 L881.4 570.7 L883.7 569.8 L885.9 567.9 L888.1 567.8 L890.3 569.0 L892.5 569.5 L894.8 569.6 L897.0 571.4 L899.2 571.9 L901.5 569.4 L903.8 568.5 L906.0 568.7 L908.4 567.9 L910.7 569.7 L913.1 569.6 L914.9 571.8 L916.6 572.7 L918.4 573.2 L920.5 571.9 L922.7 570.4 L924.8 568.7 L927.0 569.3 L929.1 567.8 L931.3 568.1 L933.4 567.8 L935.6 568.7 L937.7 568.4 L939.9 568.7 L942.0 571.0 L944.0 571.7 L946.1 572.3 L948.1 570.2 L950.0 570.5 L952.0 566.9 L953.9 566.7 L955.9 565.2 L957.7 565.8 L959.5 566.3 L961.3 567.8" fill="none" stroke="#10ae10" stroke-width="3" stroke-linejoin="round"/>
<path d="M187.9 667.3 L189.8 663.8 L191.8 663.2 L193.7 660.1 L196.1 656.5 L198.4 655.5 L200.8 653.0 L202.5 653.4 L204.2 650.6 L205.9 650.8 L208.3 648.8 L210.6 648.7 L213.0 647.2 L215.4 646.0 L217.8 645.2 L220.2 643.6 L222.0 643.3 L223.8 640.6 L225.6 639.9 L227.4 639.3 L229.8 637.1 L232.2 634.8 L234.6 634.3 L236.8 633.9 L238.9 631.4 L240.9 632.4 L243.0 631.9 L245.1 630.0 L247.2 625.7 L249.3 625.4 L251.4 622.1 L253.5 622.2 L255.6 621.0 L257.7 621.2 L259.8 620.0 L262.1 617.1 L264.5 613.7 L266.8 611.6 L269.1 610.3 L271.5 610.4 L273.8 610.9 L275.6 608.1 L277.5 607.3 L279.3 606.1 L281.6 603.9 L284.0 601.0 L286.3 597.7 L288.1 596.4 L290.0 593.4 L292.3 592.1 L294.6 589.0 L297.0 587.9 L299.3 585.9 L301.6 584.6 L304.0 584.3 L306.3 582.5 L308.6 581.3 L310.9 578.8 L313.2 577.9 L315.6 576.9 L317.9 573.8 L320.1 571.6 L322.4 571.8 L324.6 568.1 L326.9 567.3 L329.1 566.4 L331.4 565.7 L333.8 567.0 L336.1 567.6 L338.4 566.4 L340.6 564.8 L342.9 561.5 L345.1 560.7 L347.4 557.0 L349.6 555.2 L351.5 554.7 L353.3 556.7 L355.1 556.2 L357.0 556.1 L358.9 554.3 L360.8 551.9 L362.6 550.4 L364.5 546.8 L366.7 544.9 L368.8 543.9 L371.0 541.7 L373.2 540.3 L375.3 537.3 L377.5 535.6 L379.4 535.3 L381.2 533.9 L383.1 532.3 L385.0 531.9 L386.8 532.4 L388.7 534.7 L390.5 535.6 L392.7 532.6 L395.0 532.9 L397.2 529.1 L399.5 526.9 L401.7 526.3 L403.6 525.5 L405.4 527.9 L407.3 526.6 L409.2 527.3 L411.5 522.4 L413.9 518.1 L416.2 514.2 L418.5 511.4 L420.8 512.2 L423.1 512.2 L425.5 512.7 L427.8 512.4 L430.1 511.6 L432.5 508.5 L434.8 508.4 L437.1 506.8 L439.4 504.8 L441.8 504.4 L444.1 502.8 L446.4 500.3 L448.2 500.8 L450.1 498.2 L451.9 499.8 L453.8 498.4 L455.7 497.6 L457.5 495.8 L459.4 492.8 L461.3 490.5 L463.1 489.6 L465.0 489.1 L467.2 486.6 L469.5 484.9 L471.7 485.6 L474.0 484.0 L476.2 481.7 L478.4 480.5 L480.7 479.5 L482.9 477.5 L485.2 475.1 L487.4 474.2 L489.7 472.2 L492.0 471.3 L494.4 472.1 L496.7 470.5 L498.5 471.0 L500.4 472.5 L502.2 474.2 L504.1 471.8 L505.9 468.6 L507.8 467.7 L510.2 468.2 L512.6 469.4 L515.0 471.1 L517.4 472.2 L519.7 471.9 L522.1 472.8 L524.5 471.8 L526.9 472.9 L529.3 471.1 L531.0 473.3 L532.8 475.5 L534.6 474.3 L536.4 471.7 L538.2 469.3 L540.4 469.4 L542.7 471.7 L544.9 473.1 L547.1 474.6 L548.9 474.4 L550.7 472.8 L552.5 473.6 L554.2 475.7 L556.0 476.4 L557.8 475.4 L559.6 473.5 L561.4 474.0 L563.2 472.0 L565.0 469.1 L566.7 468.4 L569.1 469.2 L571.5 467.5 L573.9 468.4 L576.3 468.0 L578.6 469.4 L581.0 471.1 L582.8 471.2 L584.6 471.1 L586.4 469.3 L588.6 469.6 L590.8 472.4 L593.1 473.9 L595.3 475.5 L597.7 475.4 L600.0 472.9 L602.4 472.8 L604.2 471.9 L606.0 470.7 L607.8 470.2 L609.9 472.2 L611.9 471.9 L614.0 473.7 L616.1 473.4 L618.2 470.2 L620.3 469.3 L622.5 469.7 L624.8 472.0 L627.0 472.6 L629.2 473.7 L631.0 471.8 L632.8 472.3 L634.6 471.1 L636.8 470.4 L639.0 472.7 L641.3 472.9 L643.5 472.8 L645.7 473.3 L648.0 472.7 L650.2 471.8 L652.4 472.0 L654.2 473.2 L656.0 474.7 L657.8 476.4 L659.6 475.9 L661.3 472.4 L663.1 472.0 L664.9 475.2 L666.7 476.4 L668.9 474.5 L671.2 474.3 L673.4 473.8 L675.6 473.7 L678.0 474.2 L680.3 472.6 L682.7 472.0 L685.0 472.6 L687.2 474.7 L689.5 473.9 L691.7 475.5 L693.5 476.7 L695.2 478.2 L697.0 476.2 L698.8 474.7 L700.6 472.0 L702.8 472.7 L705.0 472.4 L707.3 471.6 L709.5 472.0 L711.3 472.4 L713.1 472.8 L714.9 474.6 L717.3 477.0 L719.6 478.0 L722.0 479.1 L724.4 478.5 L726.7 475.8 L729.1 475.5 L731.4 475.1 L733.6 475.8 L735.9 475.0 L738.1 474.6 L740.4 473.9 L742.6 475.0 L744.9 476.3 L747.1 475.5 L749.5 473.7 L751.9 472.4 L754.3 472.0 L756.7 472.1 L759.0 473.7 L761.4 473.7 L763.2 474.4 L765.0 472.4 L766.8 472.1 L768.6 472.8 L771.0 471.9 L773.3 471.8 L775.7 472.0 L777.7 473.4 L779.7 473.8 L781.7 475.5 L783.7 477.3 L785.7 475.2 L787.7 475.9 L789.7 473.9 L791.7 472.0 L794.1 472.4 L796.5 476.1 L798.9 476.4 L801.3 474.5 L803.6 474.3 L806.0 473.7 L807.8 474.1 L809.6 472.7 L811.4 471.7 L813.2 470.2 L815.0 471.5 L816.7 472.3 L818.5 474.6 L820.6 474.6 L822.8 472.9 L824.9 472.8 L827.1 472.9 L829.2 472.8 L831.4 471.2 L833.7 471.7 L835.9 472.3 L838.1 471.1 L840.4 471.8 L842.6 471.6 L844.9 472.1 L847.1 472.0 L849.5 471.6 L851.8 470.5 L854.2 471.1 L856.6 472.2 L858.9 472.6 L861.3 473.7 L863.5 473.9 L865.8 473.9 L868.0 472.2 L870.3 472.0 L872.5 472.2 L874.8 472.6 L877.0 471.8 L879.2 472.0 L881.3 470.9 L883.5 471.9 L885.6 471.9 L887.8 471.3 L889.9 470.2 L892.0 470.7 L894.2 471.1 L896.3 470.7 L898.5 470.6 L900.6 470.2 L903.0 470.7 L905.3 470.9 L907.7 472.0 L909.8 473.5 L911.9 473.3 L914.0 475.5 L916.3 474.4 L918.6 474.5 L921.0 473.4 L923.3 472.3 L925.6 471.1 L927.7 472.5 L929.7 475.0 L931.8 477.3 L933.9 475.4 L936.1 474.1 L938.2 471.7 L940.4 470.6 L942.5 468.4 L944.6 470.7 L946.7 470.0 L948.8 472.0 L950.9 472.7 L953.0 473.3 L955.0 472.6 L957.1 473.1 L959.2 474.7 L961.3 473.7" fill="none" stroke="#9410d6" stroke-width="3" stroke-linejoin="round"/>
<path d="M180.8 683.1 L182.5 676.9 L184.1 673.1 L185.8 668.0 L187.8 663.5 L189.8 661.6 L191.7 658.4 L193.7 653.7 L195.8 650.9 L198.0 646.9 L200.2 645.3 L202.3 642.2 L204.3 640.2 L206.2 638.5 L208.2 635.8 L210.2 633.6 L212.3 630.7 L214.4 628.0 L216.6 624.0 L218.7 620.5 L220.8 618.7 L222.9 614.3 L225.1 610.7 L227.4 609.2 L229.6 605.6 L231.8 603.8 L234.1 599.3 L236.3 597.5 L238.7 595.4 L241.1 590.4 L243.5 586.3 L245.8 583.5 L248.2 580.5 L250.6 576.2 L253.0 574.1 L255.2 571.1 L257.5 568.3 L259.7 566.3 L261.9 562.6 L264.2 559.6 L266.4 557.4 L268.4 554.0 L270.4 552.7 L272.5 550.5 L274.5 546.8 L276.5 544.0 L278.5 540.6 L280.5 539.4 L282.5 535.7 L284.5 532.5 L286.5 530.6 L288.2 529.4 L290.0 530.1 L292.3 527.8 L294.6 524.9 L297.0 521.4 L299.3 518.0 L301.6 514.4 L304.0 511.2 L306.3 506.8 L308.6 504.0 L310.5 503.8 L312.4 500.8 L314.2 500.2 L316.1 498.4 L318.3 496.2 L320.5 493.3 L322.8 489.4 L325.0 485.9 L327.2 483.5 L329.1 481.3 L330.9 477.9 L332.8 477.4 L334.7 474.2 L336.6 472.0 L338.4 471.4 L340.2 468.0 L342.1 466.8 L344.0 465.3 L345.9 463.8 L347.7 463.1 L349.6 462.1 L351.5 458.3 L353.3 454.8 L355.1 453.6 L357.0 450.0 L359.2 447.3 L361.3 445.0 L363.5 443.5 L365.7 440.8 L368.0 439.0 L370.2 436.6 L372.4 434.9 L374.7 432.7 L376.9 430.1 L378.4 425.8 L380.0 422.3 L382.2 423.4 L384.5 423.2 L386.7 422.3 L388.9 418.3 L391.2 417.6 L393.4 413.9 L395.6 412.2 L397.9 409.0 L400.1 405.5 L402.2 406.3 L404.3 408.9 L406.5 407.4 L408.7 404.5 L410.8 400.6 L413.0 398.2 L415.2 397.1 L417.1 394.5 L418.9 390.0 L420.8 385.2 L422.7 382.1 L424.6 381.3 L426.4 381.6 L428.3 382.0 L430.2 382.9 L432.4 381.1 L434.7 377.5 L436.9 375.4 L438.9 372.2 L440.9 371.8 L443.0 369.1 L445.0 365.2 L447.0 363.7 L449.2 364.2 L451.5 362.8 L453.7 362.0 L455.4 361.1 L457.0 359.1 L458.7 357.0 L460.9 354.7 L463.2 351.0 L465.4 346.9 L467.5 346.5 L469.6 343.6 L471.7 343.7 L473.8 341.9 L475.9 339.7 L478.0 337.9 L480.0 334.8 L482.1 332.7 L484.4 332.5 L486.8 330.5 L489.1 328.5 L491.5 327.3 L493.8 326.8 L495.5 323.9 L497.2 322.9 L498.9 321.0 L501.1 320.1 L503.4 321.4 L505.6 321.8 L507.8 317.5 L510.1 315.1 L512.3 311.8 L514.0 308.2 L515.6 304.6 L517.3 300.9 L519.6 301.1 L522.0 298.2 L524.3 298.7 L526.3 300.4 L528.2 300.3 L530.2 301.2 L532.5 301.4 L534.8 301.6 L537.1 301.2 L539.2 303.2 L541.4 303.0 L543.5 304.2 L545.6 305.5 L547.8 304.5 L549.9 301.2 L551.6 302.4 L553.3 306.1 L555.0 308.0 L557.1 305.4 L559.3 302.1 L561.3 299.7 L563.2 300.1 L565.2 298.7 L567.2 302.0 L569.2 305.5 L571.2 307.2 L572.9 304.6 L574.6 302.9 L576.9 304.5 L579.1 303.5 L581.4 303.8 L583.1 305.5 L584.9 307.2 L586.6 307.4 L588.3 304.3 L590.0 304.6 L591.7 306.6 L593.4 307.8 L595.1 308.9 L596.8 307.0 L598.5 307.0 L600.2 304.6 L602.5 305.1 L604.7 306.3 L607.0 307.2 L609.1 306.6 L611.1 306.5 L613.2 304.4 L615.2 304.3 L617.3 303.8 L619.4 305.3 L621.5 307.3 L623.7 309.7 L625.8 310.6 L627.7 308.8 L629.6 308.9 L631.6 306.5 L633.5 305.5 L635.9 305.7 L638.2 305.3 L640.5 306.1 L642.9 306.3 L644.6 308.4 L646.3 308.4 L648.0 308.9 L649.9 308.6 L651.9 306.3 L653.8 305.2 L655.7 304.6 L657.9 307.1 L660.0 310.6 L662.1 309.1 L664.2 307.2 L666.4 309.3 L668.5 310.6 L670.2 309.9 L671.9 306.5 L673.6 306.3 L675.7 307.9 L677.7 309.4 L679.8 309.5 L681.8 309.3 L683.9 311.5 L686.2 310.4 L688.4 309.0 L690.7 309.7 L693.0 309.2 L695.2 311.4 L697.5 310.6 L699.8 311.7 L702.0 312.7 L704.3 313.2 L706.0 312.5 L707.8 311.4 L709.5 308.9 L711.6 310.9 L713.8 312.6 L715.9 314.3 L718.0 315.7 L720.0 313.4 L722.0 310.3 L724.0 307.2 L725.9 308.5 L727.8 308.2 L729.7 310.2 L731.6 310.6 L733.3 310.9 L735.0 311.4 L737.3 312.1 L739.6 310.4 L742.0 310.6 L744.3 311.4 L746.6 310.9 L749.0 313.5 L751.3 314.6 L753.6 314.2 L755.5 312.7 L757.3 310.1 L759.2 308.6 L761.1 310.4 L762.9 311.2 L764.8 311.4 L766.9 311.8 L769.1 311.3 L771.2 311.7 L773.3 312.3 L775.4 312.3 L777.6 312.8 L779.7 313.3 L782.0 312.3 L784.4 311.6 L786.7 307.9 L789.0 307.7 L790.9 308.6 L792.7 307.9 L794.5 308.8 L796.4 310.5 L798.7 311.8 L801.0 311.6 L803.4 312.9 L805.7 312.3 L807.9 311.1 L810.2 308.8 L812.4 308.7 L814.7 308.1 L816.9 306.8 L818.8 308.9 L820.6 309.9 L822.5 309.5 L824.4 310.5 L826.2 309.3 L828.1 308.6 L830.0 309.1 L831.8 312.1 L833.7 313.3 L835.9 311.1 L838.1 309.4 L840.4 307.5 L842.6 306.0 L844.8 305.8 L846.7 308.1 L848.5 308.5 L850.4 311.4 L852.5 310.8 L854.6 306.6 L856.7 306.8 L858.8 304.0 L860.9 305.6 L863.0 307.8 L865.1 312.2 L867.2 314.2 L869.4 312.3 L871.5 312.3 L873.7 309.7 L875.9 308.1 L878.0 308.7 L880.2 306.8 L882.4 308.8 L884.7 310.7 L886.9 311.8 L889.2 311.6 L891.4 314.2 L893.2 314.1 L895.1 313.8 L896.9 312.7 L898.8 312.3 L901.0 312.9 L903.3 310.5 L905.5 311.8 L907.8 310.6 L910.0 309.5 L912.3 308.5 L914.6 308.7 L917.0 310.6 L919.3 310.5 L921.5 310.7 L923.7 308.2 L925.8 308.2 L928.0 308.6 L930.2 306.5 L932.4 306.8 L934.2 308.9 L936.1 309.1 L937.9 309.1 L939.8 311.4 L941.9 311.8 L944.0 313.0 L946.1 313.3 L948.2 314.2 L950.4 313.4 L952.5 310.8 L954.7 310.5 L956.6 310.9 L958.4 309.5 L960.3 309.5" fill="none" stroke="#eb7f12" stroke-width="3" stroke-linejoin="round"/>
<path d="M177.2 683.1 L178.6 677.2 L180.0 670.5 L181.5 666.1 L183.0 661.0 L184.5 656.7 L186.0 652.7 L187.5 647.3 L189.0 642.6 L190.5 639.3 L192.0 634.4 L193.5 631.0 L195.0 625.3 L196.5 621.4 L198.0 616.0 L199.5 612.2 L201.0 608.2 L202.5 602.9 L204.0 598.8 L205.5 593.8 L207.0 591.1 L208.5 588.0 L210.0 582.5 L211.5 579.1 L213.0 574.6 L214.5 571.9 L216.0 567.4 L217.5 563.5 L219.0 560.5 L220.5 556.4 L222.0 551.7 L223.5 549.3 L225.0 544.4 L226.5 541.9 L228.0 537.8 L229.5 534.7 L231.0 531.1 L232.5 526.7 L234.0 523.2 L235.5 519.4 L237.0 515.9 L238.5 513.9 L240.0 509.9 L241.5 505.3 L243.0 501.4 L244.5 499.2 L246.0 496.0 L247.5 492.5 L249.0 488.3 L250.5 485.9 L252.0 481.5 L253.5 479.0 L255.0 474.9 L256.5 471.3 L258.0 468.8 L259.5 464.8 L261.0 463.4 L262.5 459.1 L264.0 456.0 L265.5 453.1 L267.0 450.5 L268.3 450.0 L270.6 445.7 L273.0 441.8 L275.3 437.4 L277.6 430.7 L280.0 428.2 L282.3 422.8 L284.4 419.3 L286.6 415.2 L288.7 410.1 L290.9 405.0 L293.0 401.3 L295.2 397.9 L297.3 393.5 L299.5 388.9 L301.7 385.2 L303.8 379.4 L306.0 375.5 L308.1 370.1 L310.3 367.0 L312.4 362.6 L314.5 360.1 L316.7 355.3 L318.9 353.5 L321.0 349.6 L323.1 346.4 L325.3 341.0 L327.5 336.9 L329.6 334.4 L331.8 331.1 L333.9 327.1 L336.1 323.8 L338.3 320.9 L340.4 318.9 L342.6 317.4 L344.4 313.7 L346.1 309.5 L347.9 304.4 L349.8 302.7 L351.7 300.1 L353.6 300.4 L355.5 298.0 L357.6 295.1 L359.8 290.1 L361.9 287.2 L363.4 283.3 L365.0 279.0 L367.0 277.2 L369.0 274.3 L371.1 270.5 L373.1 267.6 L375.1 264.8 L377.4 262.7 L379.7 259.4 L382.0 257.1 L384.3 255.6 L386.0 255.0 L387.6 256.7 L389.3 256.4 L391.6 251.6 L393.9 247.8 L396.2 242.9 L398.5 238.8 L400.2 239.1 L401.9 238.5 L403.6 239.7 L405.9 234.7 L408.3 233.3 L410.6 227.8 L413.0 223.2 L415.3 220.4 L417.0 219.9 L418.6 219.5 L420.3 217.9 L422.4 215.5 L424.5 215.2 L426.6 213.1 L428.7 212.0 L430.8 209.1 L432.9 204.9 L434.9 202.0 L437.0 200.3 L438.7 201.3 L440.4 200.7 L442.1 199.5 L443.8 197.5 L445.4 195.7 L447.1 193.6 L448.8 193.8 L450.4 196.0 L452.1 196.1 L454.2 192.8 L456.3 191.0 L458.4 187.4 L460.5 183.6 L462.6 182.3 L464.7 180.6 L466.8 176.7 L468.9 175.2 L471.0 173.4 L473.1 173.2 L475.2 172.5 L477.3 172.7 L479.3 170.1 L481.3 168.5 L483.3 168.3 L485.3 167.6 L487.3 165.1 L489.5 165.3 L491.8 166.9 L494.0 166.0 L495.7 164.5 L497.3 159.8 L499.0 158.4 L501.0 160.2 L503.0 161.1 L505.0 162.9 L507.1 160.0 L509.1 160.4 L511.2 157.3 L512.5 152.3 L513.7 148.6 L515.5 144.1 L517.4 139.3 L519.2 140.4 L521.1 142.0 L522.9 142.1 L524.8 142.4 L526.7 142.9 L528.5 143.8 L530.4 143.8 L532.3 145.5 L534.1 147.5 L536.0 148.3 L537.9 147.1 L539.7 148.6 L541.5 147.1 L543.4 148.0 L545.5 148.2 L547.6 149.3 L549.7 150.5 L551.3 151.1 L553.0 150.7 L554.6 149.2 L556.6 150.8 L558.6 149.5 L560.5 152.2 L562.5 152.8 L564.5 153.0 L566.5 153.4 L568.5 154.3 L570.5 151.8 L572.5 152.1 L574.5 153.0 L576.4 154.3 L578.2 154.2 L579.9 153.3 L581.5 150.5 L583.2 148.0 L585.3 149.5 L587.3 152.4 L589.4 154.2 L591.4 154.6 L593.4 152.7 L595.3 153.0 L597.3 152.6 L599.3 153.0 L601.4 153.3 L603.4 155.4 L605.5 156.7 L607.6 154.8 L609.6 154.0 L611.7 153.6 L613.4 153.7 L615.0 156.1 L616.7 156.7 L618.3 154.6 L620.0 155.6 L621.6 154.2 L623.3 154.4 L624.9 155.1 L626.6 157.3 L628.3 157.4 L629.9 154.5 L631.6 154.2 L633.5 157.5 L635.3 158.6 L637.4 158.3 L639.4 157.1 L641.5 154.8 L643.2 154.9 L644.8 156.7 L646.5 157.9 L648.6 156.7 L650.8 158.7 L652.9 158.3 L655.0 157.3 L657.1 158.5 L659.1 158.8 L661.2 159.8 L663.3 159.6 L665.3 161.0 L667.4 160.4 L669.1 159.5 L670.7 159.1 L672.4 158.0 L674.2 157.1 L676.1 157.3 L677.9 156.8 L679.8 158.0 L681.5 159.4 L683.1 159.7 L684.8 160.4 L686.6 158.3 L688.5 158.0 L690.2 159.8 L691.8 159.0 L693.5 160.4 L695.6 159.1 L697.6 157.3 L699.7 157.1 L701.6 157.2 L703.4 159.3 L705.2 158.7 L707.1 159.8 L709.0 159.6 L710.9 161.0 L712.7 161.2 L714.6 162.3 L716.5 161.5 L718.3 158.6 L720.5 158.5 L722.8 161.6 L725.0 160.0 L727.3 163.1 L729.5 162.9 L731.6 163.1 L733.6 161.7 L735.7 162.2 L737.8 161.5 L739.8 161.3 L741.9 161.7 L743.8 160.8 L745.6 161.0 L747.4 162.5 L749.3 161.1 L751.0 163.4 L752.6 164.3 L754.3 164.2 L756.4 162.1 L758.4 161.6 L760.5 161.1 L762.6 162.3 L764.6 160.3 L766.7 161.7 L768.4 161.7 L770.0 159.9 L771.7 159.8 L773.3 161.9 L775.0 160.2 L776.6 162.3 L778.6 163.0 L780.6 161.6 L782.6 161.0 L784.6 160.5 L786.6 161.7 L788.2 162.1 L789.9 160.9 L791.5 160.4 L793.2 161.2 L794.8 163.6 L796.5 165.4 L798.2 165.4 L799.8 162.6 L801.5 162.3 L803.4 162.2 L805.2 160.8 L807.0 160.6 L808.9 161.1 L810.9 162.8 L813.0 163.7 L815.0 164.2 L816.9 163.6 L818.7 163.4 L820.5 163.6 L822.4 164.8 L824.2 163.7 L826.1 162.1 L828.2 162.6 L830.2 162.5 L832.3 163.6 L834.2 162.7 L836.0 163.6 L837.9 163.7 L839.8 163.0 L841.6 164.4 L843.5 164.4 L845.4 164.0 L847.2 165.4 L848.9 162.4 L850.5 162.3 L852.2 159.9 L854.1 160.3 L856.0 161.7 L857.8 160.5 L859.7 162.3 L861.8 163.7 L863.8 163.1 L865.9 164.2 L868.0 164.7 L870.0 164.3 L872.1 163.0 L874.1 163.0 L876.1 161.7 L878.0 164.1 L880.0 162.9 L882.0 163.0 L884.2 164.9 L886.4 164.2 L888.5 165.0 L890.7 166.7 L892.8 166.7 L894.8 164.7 L896.9 164.2 L898.8 164.1 L900.6 165.4 L902.4 166.8 L904.3 167.3 L906.2 164.9 L908.0 165.2 L909.9 163.9 L911.8 163.0 L913.6 165.2 L915.5 167.3 L917.4 164.5 L919.2 164.2 L921.1 162.6 L923.0 159.9 L925.1 162.3 L927.1 162.3 L929.2 164.2 L931.1 164.6 L932.9 163.6 L934.8 164.4 L936.6 163.6 L938.3 161.8 L939.9 163.3 L941.6 161.7 L943.2 163.7 L944.9 163.4 L946.5 164.2 L948.4 164.7 L950.2 165.2 L952.1 165.7 L954.0 166.1 L956.3 163.8 L958.5 165.2 L960.8 163.0" fill="none" stroke="#dc4349" stroke-width="3" stroke-linejoin="round"/>

<g transform="translate(143.2,0) scale(0.95,1)">
<text x="0" y="93.2" class="tk" text-anchor="end">0.6</text>
<text x="0" y="293.2" class="tk" text-anchor="end">0.4</text>
<text x="0" y="493.2" class="tk" text-anchor="end">0.2</text>
<text x="0" y="693.2" class="tk" text-anchor="end">0.0</text>
</g>
<text x="175.5" y="746" class="tk" text-anchor="middle">0</text>
<text x="400.3" y="746" class="tk" text-anchor="middle">100</text>
<text x="625.3" y="746" class="tk" text-anchor="middle">200</text>
<text x="850.3" y="746" class="tk" text-anchor="middle">300</text>
<text x="1075.3" y="746" class="tk" text-anchor="middle">400</text>
<text transform="translate(72,507) rotate(-90)" class="ttl">Response (nm)</text>
<text x="545" y="785" class="ttl">T</text><text x="567" y="785" class="ttl">im</text><text x="610" y="785" class="ttl">e</text><text x="660" y="785" class="ttl">s</text>
<path d="M646.3 760.5 Q633 773.3 646.3 786.3" fill="none" stroke="#000" stroke-width="2.4"/>
<path d="M684.3 760.5 Q697.6 773.3 684.3 786.3" fill="none" stroke="#000" stroke-width="2.4"/>
<g transform="translate(188,0) scale(0.952,1)"><text x="0" y="111" class="kd">K<tspan class="sub" dy="5">D</tspan><tspan dy="-5">=3.14×10</tspan><tspan class="sup" dy="-12">-9</tspan></text>
<text x="0" y="153" class="kd">K<tspan class="sub" dy="5">off</tspan><tspan dy="-5">=1.58×10</tspan><tspan class="sup" dy="-12">-4</tspan></text>
<text x="0" y="196" class="kd">K<tspan class="sub" dy="5">on</tspan><tspan dy="-5">=5.01×10</tspan><tspan class="sup" dy="-12">4</tspan></text></g>
<line x1="986.0" y1="82.0" x2="1050.0" y2="82.0" stroke="#dc4349" stroke-width="3"/>
<text x="1079.6" y="88.7" class="lg">200 nM</text>
<line x1="985.2" y1="131.4" x2="1049.0" y2="131.4" stroke="#eb7f12" stroke-width="3"/>
<text x="1079.6" y="138.1" class="lg">100 nM</text>
<line x1="984.4" y1="180.7" x2="1048.2" y2="180.7" stroke="#9410d6" stroke-width="3"/>
<text x="1078.0" y="187.4" class="lg">50 nM</text>
<line x1="984.0" y1="233.2" x2="1048.2" y2="233.2" stroke="#10ae10" stroke-width="3"/>
<text x="1078.0" y="239.9" class="lg">25 nM</text>
<line x1="984.0" y1="285.8" x2="1048.2" y2="285.8" stroke="#2596b2" stroke-width="3"/>
<text x="1078.0" y="292.5" class="lg">12.5 nM</text>
<line x1="984.0" y1="338.5" x2="1048.2" y2="338.5" stroke="#0508d8" stroke-width="3"/>
<text x="1078.0" y="345.2" class="lg">6.25 nM</text>
<line x1="984.0" y1="390.1" x2="1048.2" y2="390.1" stroke="#f6f41a" stroke-width="3"/>
<text x="1078.0" y="396.8" class="lg">3.125 nM</text>
</svg>
</body></html>
